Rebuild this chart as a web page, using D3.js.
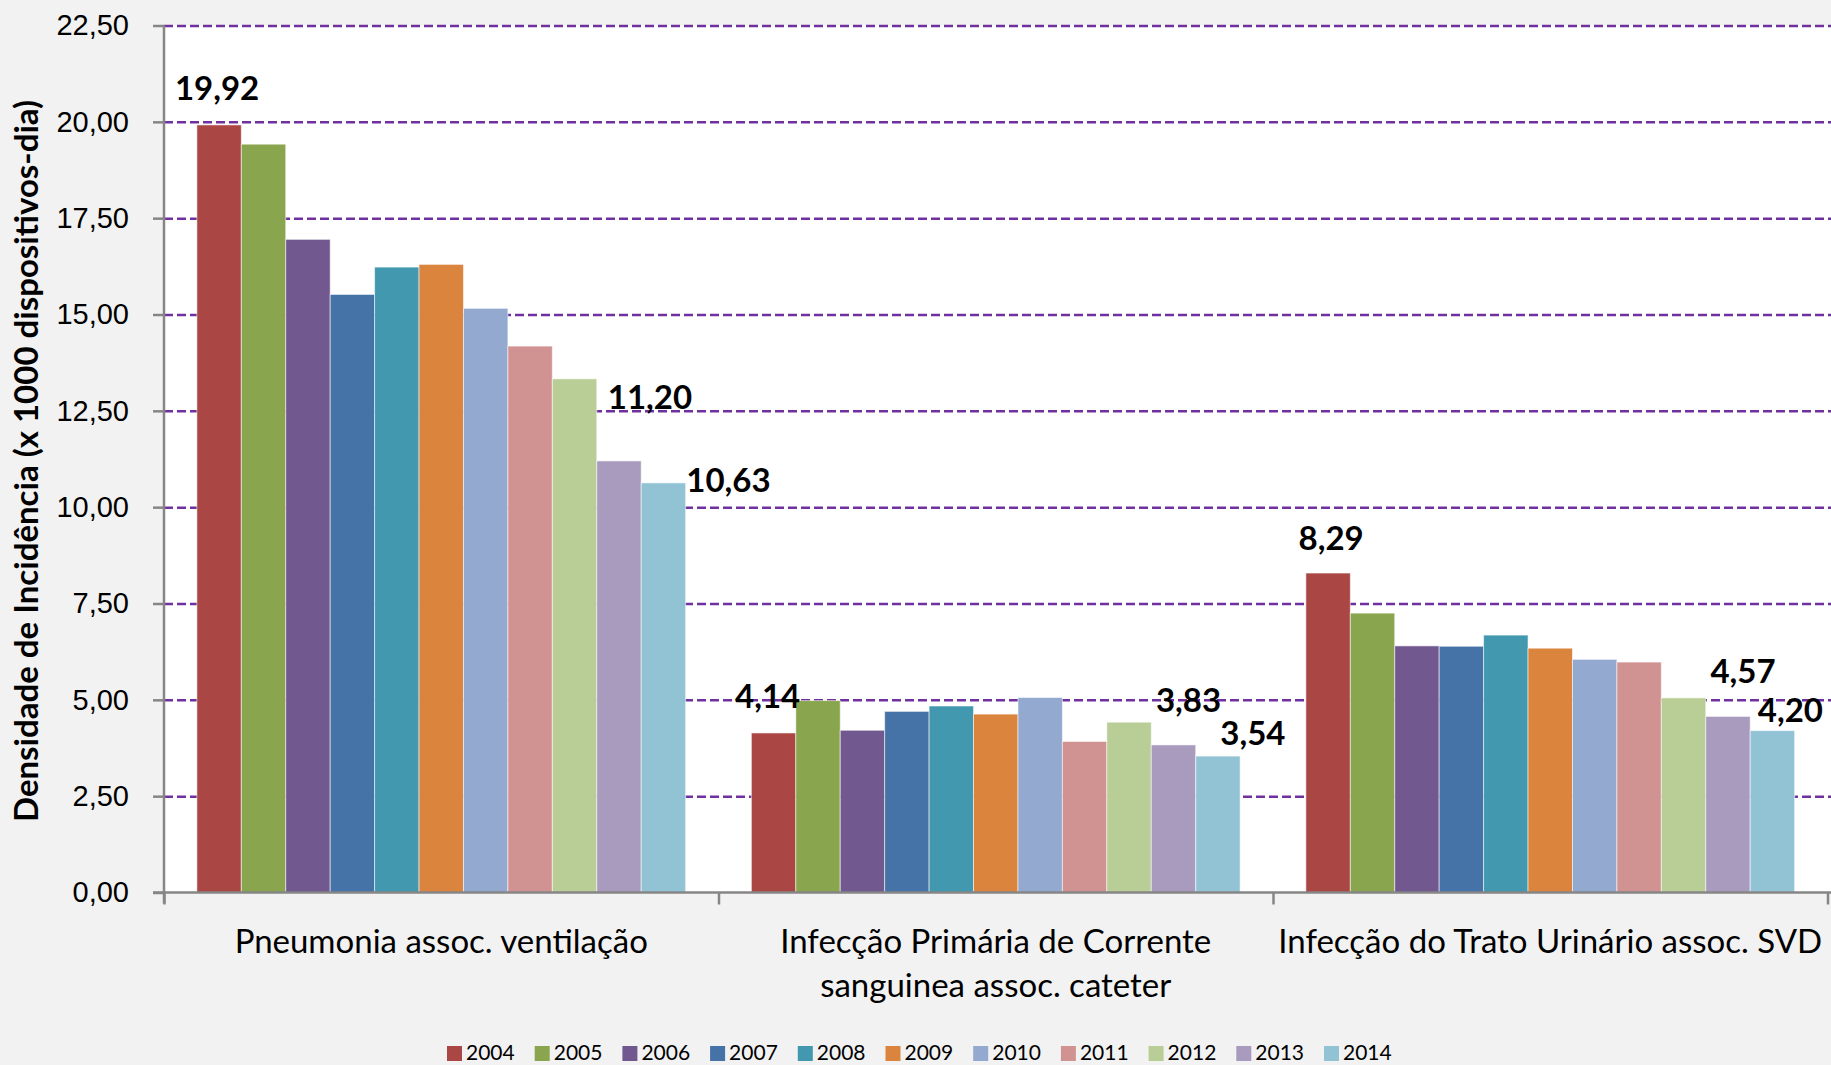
<!DOCTYPE html>
<html>
  <head>
    <meta charset="utf-8" />
    <title>Densidade de Incidência</title>
    <script src="https://d3js.org/d3.v7.min.js"></script>

    <style>
        body {margin: 0; background: #f2f2f2;}
        svg {display: block; font-family: Lato, "Open Sans", sans-serif;}
    </style>

  </head>
  <body>

    <svg id="chart" width="1831" height="1065"></svg>

    <script>

        // data
        var categories = [
            "Pneumonia assoc. ventilação",
            "Infecção Primária de Corrente\nsanguinea assoc. cateter",
            "Infecção do Trato Urinário assoc. SVD"
        ];
        var years = ["2004", "2005", "2006", "2007", "2008", "2009", "2010", "2011", "2012", "2013", "2014"];
        var pav  = [19.92, 19.42, 16.95, 15.52, 16.23, 16.30, 15.16, 14.18, 13.33, 11.20, 10.63];
        var ipcs = [4.14, 4.98, 4.21, 4.70, 4.84, 4.63, 5.06, 3.92, 4.42, 3.83, 3.54];
        var itu  = [8.29, 7.25, 6.40, 6.39, 6.68, 6.34, 6.05, 5.98, 5.05, 4.57, 4.20];
        var yTicks = [0, 2.5, 5, 7.5, 10, 12.5, 15, 17.5, 20, 22.5];
        var labelledYears = ["2004", "2013", "2014"];

        var colors = ["#aa4643", "#89a54e", "#71588f", "#4572a7", "#4198af", "#db843d",
                      "#93a9cf", "#d19392", "#b9cd96", "#a99bbd", "#92c3d5"];

        // hand placed data labels (dx, dy from bar centre / top)
        var labelNudge = {
            "0-2004": [-2, -36], "0-2013": [31, -63], "0-2014": [65, -2],
            "1-2004": [-6, -37], "1-2013": [15, -44], "1-2014": [35, -23],
            "2-2004": [3, -35],  "2-2013": [15, -45], "2-2014": [18, -20]
        };

        var seriesByCat = [pav, ipcs, itu];

        var rows = [];
        categories.forEach(function(c, ci){
            years.forEach(function(yr, yi){
                rows.push({cat: c, ci: ci, year: yr, value: seriesByCat[ci][yi]});
            });
        });

        var plotLeft = 164, plotRight = 1827.5, plotTop = 25.5, plotBottom = 892.5;

        var svg = d3.select("#chart");

        var locale = d3.formatLocale({decimal: ",", thousands: ".", grouping: [3], currency: ["R$", ""]});
        var fmt = locale.format(".2f");

        var x0 = d3.scaleBand().domain(categories).range([plotLeft, plotRight]).padding(0);
        var x1 = d3.scaleBand().domain(years).range([0, x0.bandwidth()]).paddingInner(0).paddingOuter(0.74);
        var y = d3.scaleLinear().domain([0, 22.5]).range([plotBottom, plotTop]);
        var color = d3.scaleOrdinal().domain(years).range(colors);

        // plot area
        svg.append("rect")
            .attr("x", plotLeft).attr("y", plotTop)
            .attr("width", 1831 - plotLeft).attr("height", plotBottom - plotTop)
            .attr("fill", "#ffffff");

        // gridlines
        var grid = svg.append("g")
            .attr("transform", "translate(" + plotLeft + ",0)")
            .call(d3.axisLeft(y).tickValues(yTicks.filter(function(d){ return d > 0; }))
                .tickSize(-(1831 - plotLeft)).tickFormat(""));
        grid.select(".domain").remove();
        grid.selectAll("line")
            .attr("stroke", "#7030a0")
            .attr("stroke-width", 2.5)
            .attr("stroke-dasharray", "9,4");

        // bars
        svg.append("g").selectAll("rect")
            .data(rows)
            .enter().append("rect")
            .attr("x", function(d){ return x0(d.cat) + x1(d.year); })
            .attr("y", function(d){ return y(d.value); })
            .attr("width", x1.bandwidth())
            .attr("height", function(d){ return plotBottom - y(d.value); })
            .attr("fill", function(d){ return color(d.year); })
            .attr("stroke", "#ffffff")
            .attr("stroke-opacity", 0.55)
            .attr("stroke-width", 1);

        // y axis
        var yAxis = svg.append("g")
            .attr("transform", "translate(" + plotLeft + ",0)")
            .call(d3.axisLeft(y).tickValues(yTicks).tickFormat(fmt).tickSize(11).tickPadding(24));
        yAxis.select(".domain")
            .attr("stroke", "#868686").attr("stroke-width", 2.5)
            .attr("d", "M0," + plotTop + "V" + (plotBottom + 11));
        yAxis.selectAll(".tick line").attr("stroke", "#868686").attr("stroke-width", 2.5);
        yAxis.selectAll("text")
            .attr("font-size", "29px")
            .attr("fill", "#000000");

        // x axis with ticks between categories
        var xb = d3.scaleLinear().domain([0, categories.length]).range([plotLeft, plotRight]);
        var xAxis = svg.append("g")
            .attr("transform", "translate(0," + plotBottom + ")")
            .call(d3.axisBottom(xb).tickValues(d3.range(categories.length + 1)).tickFormat("").tickSize(12));
        xAxis.select(".domain")
            .attr("stroke", "#868686").attr("stroke-width", 2.5)
            .attr("d", "M" + (plotLeft - 11) + ",0H1831");
        xAxis.selectAll(".tick line").attr("stroke", "#868686").attr("stroke-width", 2.5);

        // category labels
        var catLabels = svg.append("g").selectAll("text")
            .data(categories)
            .enter().append("text")
            .attr("x", function(d){ return x0(d) + x0.bandwidth() / 2; })
            .attr("y", 941)
            .attr("text-anchor", "middle")
            .attr("font-size", "33px")
            .attr("fill", "#000000");
        catLabels.each(function(d){
            var lines = d.split("\n");
            var t = d3.select(this);
            lines.forEach(function(line, i){
                t.append("tspan")
                    .attr("x", t.attr("x"))
                    .attr("dy", i === 0 ? "0.35em" : "44px")
                    .text(line);
            });
        });

        // data labels
        svg.append("g").selectAll("text")
            .data(rows.filter(function(d){ return labelledYears.indexOf(d.year) >= 0; }))
            .enter().append("text")
            .attr("x", function(d){
                return x0(d.cat) + x1(d.year) + x1.bandwidth() / 2 + labelNudge[d.ci + "-" + d.year][0];
            })
            .attr("y", function(d){ return y(d.value) + labelNudge[d.ci + "-" + d.year][1]; })
            .attr("dy", "0.35em")
            .attr("text-anchor", "middle")
            .attr("font-size", "33px")
            .attr("font-weight", "bold")
            .attr("fill", "#000000")
            .text(function(d){ return fmt(d.value); });

        // y title
        svg.append("text")
            .attr("transform", "translate(26," + ((plotTop + plotBottom) / 2 + 2) + ") rotate(-90)")
            .attr("text-anchor", "middle")
            .attr("dy", "0.35em")
            .attr("font-size", "33px")
            .attr("font-weight", "bold")
            .attr("fill", "#000000")
            .text("Densidade de Incidência (x 1000 dispositivos-dia)");

        // legend
        var legend = svg.append("g").selectAll("g")
            .data(years)
            .enter().append("g")
            .attr("transform", function(d, i){ return "translate(" + (447 + i * 87.7) + ",1046)"; });
        legend.append("rect")
            .attr("width", 15).attr("height", 15)
            .attr("fill", function(d){ return color(d); });
        legend.append("text")
            .attr("x", 19).attr("y", 7)
            .attr("dy", "0.35em")
            .attr("font-size", "21px")
            .attr("fill", "#000000")
            .text(function(d){ return d; });

    </script>

  </body>
</html>
